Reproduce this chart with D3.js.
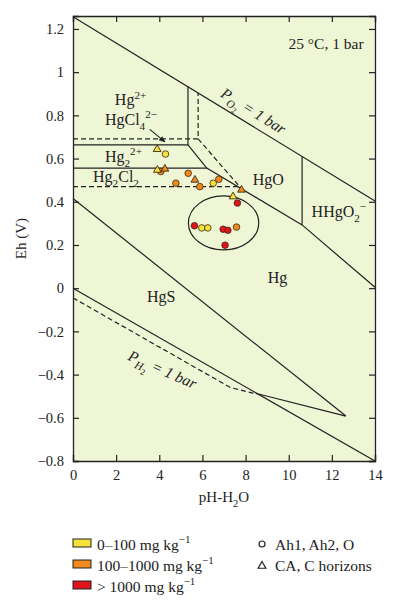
<!DOCTYPE html>
<html>
<head>
<meta charset="utf-8">
<script src="https://cdn.jsdelivr.net/npm/d3@7"></script>
<style>
  body { margin: 0; background: #fff; }
  text { font-family: "Liberation Serif", "DejaVu Serif", serif; fill: #222; }
</style>
</head>
<body>
<script>
var width = 399, height = 610;
var margin = {left: 73, right: 24, top: 16, bottom: 149};

// axes
var xTicks = [0, 2, 4, 6, 8, 10, 12, 14];
var yTicks = [-0.8, -0.6, -0.4, -0.2, 0, 0.2, 0.4, 0.6, 0.8, 1, 1.2];

// stability field boundaries, [pH, Eh]
var po2Line = [[0, 1.257], [14, 0.404]];
var ph2Line = [[0, 0], [14, -0.8]];
var ph2Dashed = [[0, -0.045], [7.3, -0.46], [8.3, -0.485], [8.6, -0.49]];
var hgsUpper = [[0, 0.415], [12.65, -0.592]];
var hgsLower = [[8.6, -0.49], [12.65, -0.592]];
var hg2Solid = [[0, 0.663], [5.33, 0.663], [5.33, 0.932]];
var hg22Solid = [[0, 0.556], [6.2, 0.556]];
var hgDiag = [[5.33, 0.663], [6.2, 0.556], [10.62, 0.293], [14, 0.004]];
var hhgo2Line = [[10.62, 0.61], [10.62, 0.293]];
var clDashedTop = [[0, 0.691], [5.8, 0.691], [5.8, 0.904]];
var clDashedDiag = [[5.8, 0.691], [7.8, 0.462]];
var clDashedLow = [[0, 0.47], [7.8, 0.47]];

// samples
var samplePH = [3.90, 4.29, 3.91, 4.07, 4.26, 5.34, 5.65, 4.77, 5.88, 6.50, 6.76, 7.81, 7.42, 7.62, 5.63, 5.97, 6.25, 6.96, 7.18, 7.58, 7.05];
var sampleEh = [0.643, 0.621, 0.547, 0.540, 0.552, 0.532, 0.501, 0.486, 0.470, 0.486, 0.504, 0.455, 0.424, 0.394, 0.289, 0.279, 0.279, 0.273, 0.268, 0.283, 0.199];
var sampleHg = ["low", "low", "low", "mid", "mid", "mid", "mid", "mid", "mid", "low", "mid", "mid", "low", "high", "high", "low", "low", "high", "high", "mid", "high"];
var sampleHorizon = ["C", "A", "C", "A", "C", "A", "C", "A", "A", "A", "A", "C", "C", "A", "A", "A", "A", "A", "A", "A", "A"];

var hgLevels = ["low", "mid", "high"];
var hgColors = ["#f5e23c", "#f08a1e", "#e0141a"];
var hgLabels = ["0\u2013100 mg kg", "100\u20131000 mg kg", "> 1000 mg kg"];
var horizonNames = ["Ah1, Ah2, O", "CA, C horizons"];

var samples = samplePH.map(function(d, i) {
  return {ph: d, eh: sampleEh[i], hg: sampleHg[i], hz: sampleHorizon[i]};
});

var x = d3.scaleLinear().domain([0, 14]).range([margin.left, width - margin.right]);
var y = d3.scaleLinear().domain([-0.8, 1.26]).range([height - margin.bottom, margin.top]);
var color = d3.scaleOrdinal().domain(hgLevels).range(hgColors);

var svg = d3.select("body").append("svg")
    .attr("width", width)
    .attr("height", height);

svg.append("rect")
    .attr("x", x(0)).attr("y", y(1.26))
    .attr("width", x(14) - x(0)).attr("height", y(-0.8) - y(1.26))
    .attr("fill", "#eff6d6");

var line = d3.line().x(function(d) { return x(d[0]); }).y(function(d) { return y(d[1]); });

var solid = [po2Line, ph2Line, hgsUpper, hgsLower, hg2Solid, hg22Solid, hgDiag, hhgo2Line];
var dashed = [ph2Dashed, clDashedTop, clDashedDiag, clDashedLow];

svg.selectAll("path.solid").data(solid).enter().append("path")
    .attr("class", "solid")
    .attr("d", line)
    .attr("fill", "none").attr("stroke", "#222").attr("stroke-width", 1.2);

svg.selectAll("path.dashed").data(dashed).enter().append("path")
    .attr("class", "dashed")
    .attr("d", line)
    .attr("fill", "none").attr("stroke", "#222").attr("stroke-width", 1.2)
    .attr("stroke-dasharray", "5,3");

// cluster ellipse
svg.append("ellipse")
    .attr("cx", x(6.98)).attr("cy", y(0.302))
    .attr("rx", x(1.63) - x(0)).attr("ry", y(0) - y(0.125))
    .attr("fill", "none").attr("stroke", "#222").attr("stroke-width", 1.2);

// text with sub/superscripts: parts = [text, shift(em), scale, italic]
function rich(sel, parts, size) {
  var t = sel.append("text").attr("font-size", size);
  var cur = 0;
  parts.forEach(function(p) {
    var s = (p[1] || 0) * size;
    t.append("tspan")
      .attr("dy", s - cur)
      .attr("font-size", size * (p[2] || 1))
      .attr("font-style", p[3] ? "italic" : null)
      .text(p[0]);
    cur = s;
  });
  return t;
}

var fs = 16;
function placeLabel(parts, ph, eh, anchor, size) {
  return rich(svg, parts, size || fs)
    .attr("x", x(ph)).attr("y", y(eh))
    .attr("text-anchor", anchor || "start");
}

placeLabel([["Hg"], ["2+", -0.4, 0.7]], 1.94, 0.848);
placeLabel([["HgCl"], ["4", 0.3, 0.7], ["2\u2212", -0.45, 0.7]], 1.48, 0.755);
placeLabel([["Hg"], ["2", 0.3, 0.7], ["2+", -0.45, 0.7]], 1.48, 0.584);
placeLabel([["Hg"], ["2", 0.3, 0.7], ["Cl"], ["2", 0.3, 0.7]], 0.93, 0.492);
placeLabel([["HgO"]], 8.33, 0.478);
placeLabel([["HHgO"], ["2", 0.3, 0.7], ["\u2212", -0.45, 0.7]], 11.06, 0.33);
placeLabel([["Hg"]], 9.03, 0.024);
placeLabel([["HgS"]], 3.43, -0.064);
placeLabel([["25 \u00B0C, 1 bar"]], 13.47, 1.107, "end", 15.5);

// gas pressure labels along the water lines
rich(svg, [["P", 0, 1, true], ["O", 0.3, 0.72, true], ["2", 0.5, 0.55], [" = 1 bar", 0, 1, true]], 15.5)
    .attr("transform", "translate(" + x(6.8) + "," + y(0.89) + ") rotate(32)");
rich(svg, [["P", 0, 1, true], ["H", 0.3, 0.72, true], ["2", 0.5, 0.55], [" = 1 bar", 0, 1, true]], 15.5)
    .attr("transform", "translate(" + x(2.5) + "," + y(-0.33) + ") rotate(24)");

// arrow to HgCl4 2- field
svg.append("defs").append("marker")
    .attr("id", "arr").attr("viewBox", "0 0 10 10").attr("refX", 9).attr("refY", 5)
    .attr("markerWidth", 6).attr("markerHeight", 6).attr("orient", "auto")
  .append("path").attr("d", "M0,1L10,5L0,9z").attr("fill", "#222");
svg.append("path")
    .attr("d", line([[3.56, 0.735], [4.26, 0.677]]))
    .attr("stroke", "#222").attr("stroke-width", 1.1).attr("fill", "none")
    .attr("marker-end", "url(#arr)");

// sample points, circles then triangles
svg.selectAll("circle.s").data(samples.filter(function(d) { return d.hz === "A"; }))
  .enter().append("circle")
    .attr("class", "s")
    .attr("cx", function(d) { return x(d.ph); })
    .attr("cy", function(d) { return y(d.eh); })
    .attr("r", 3.3)
    .attr("fill", function(d) { return color(d.hg); })
    .attr("stroke", "#3a2a10").attr("stroke-width", 0.8);

var tri = d3.symbol().type(d3.symbolTriangle).size(26);
svg.selectAll("path.t").data(samples.filter(function(d) { return d.hz === "C"; }))
  .enter().append("path")
    .attr("class", "t")
    .attr("d", tri)
    .attr("transform", function(d) { return "translate(" + x(d.ph) + "," + y(d.eh) + ")"; })
    .attr("fill", function(d) { return color(d.hg); })
    .attr("stroke", "#3a2a10").attr("stroke-width", 0.9);

// axes, ticks inward on all four sides
var fmt = function(d) { return d < 0 ? "\u2212" + Math.abs(d) : String(d); };

var gx = svg.append("g").attr("transform", "translate(0," + y(-0.8) + ")")
    .call(d3.axisBottom(x).tickValues(xTicks).tickSize(-6).tickPadding(9).tickFormat(fmt));
var gy = svg.append("g").attr("transform", "translate(" + x(0) + ",0)")
    .call(d3.axisLeft(y).tickValues(yTicks).tickSize(-6).tickPadding(9).tickFormat(fmt));
var gt = svg.append("g").attr("transform", "translate(0," + y(1.26) + ")")
    .call(d3.axisTop(x).tickValues(xTicks).tickSize(-6).tickFormat(""));
var gr = svg.append("g").attr("transform", "translate(" + x(14) + ",0)")
    .call(d3.axisRight(y).tickValues(yTicks).tickSize(-6).tickFormat(""));

[gx, gy, gt, gr].forEach(function(g) {
  g.select(".domain").attr("stroke", "#222").attr("stroke-width", 1.3);
  g.selectAll(".tick line").attr("stroke", "#222").attr("stroke-width", 1.2);
  g.selectAll(".tick text").attr("font-family", "Liberation Serif, serif").attr("font-size", 14.5).attr("fill", "#222");
});

// axis titles
rich(svg, [["pH-H"], ["2", 0.3, 0.7], ["O"]], 15)
    .attr("x", (x(0) + x(14)) / 2).attr("y", 502).attr("text-anchor", "middle");
svg.append("text")
    .attr("transform", "translate(26," + ((y(1.26) + y(-0.8)) / 2) + ") rotate(-90)")
    .attr("text-anchor", "middle").attr("font-size", 15)
    .text("Eh (V)");

// legend
var leg = svg.append("g");
hgLevels.forEach(function(k, i) {
  var ly = 539 + i * 21;
  leg.append("rect")
      .attr("x", 73).attr("y", ly).attr("width", 18).attr("height", 8)
      .attr("fill", color(k)).attr("stroke", "#222").attr("stroke-width", 1);
  rich(leg, [[hgLabels[i]], ["\u22121", -0.45, 0.7]], 15.5)
      .attr("x", 97).attr("y", ly + 11);
});
leg.append("circle").attr("cx", 262).attr("cy", 544).attr("r", 3)
    .attr("fill", "none").attr("stroke", "#222").attr("stroke-width", 1.2);
leg.append("path").attr("d", d3.symbol().type(d3.symbolTriangle).size(26))
    .attr("transform", "translate(262,566)")
    .attr("fill", "none").attr("stroke", "#222").attr("stroke-width", 1.2);
horizonNames.forEach(function(n, i) {
  leg.append("text").attr("x", 275).attr("y", 550 + i * 21).attr("font-size", 15.5).text(n);
});
</script>
</body>
</html>
